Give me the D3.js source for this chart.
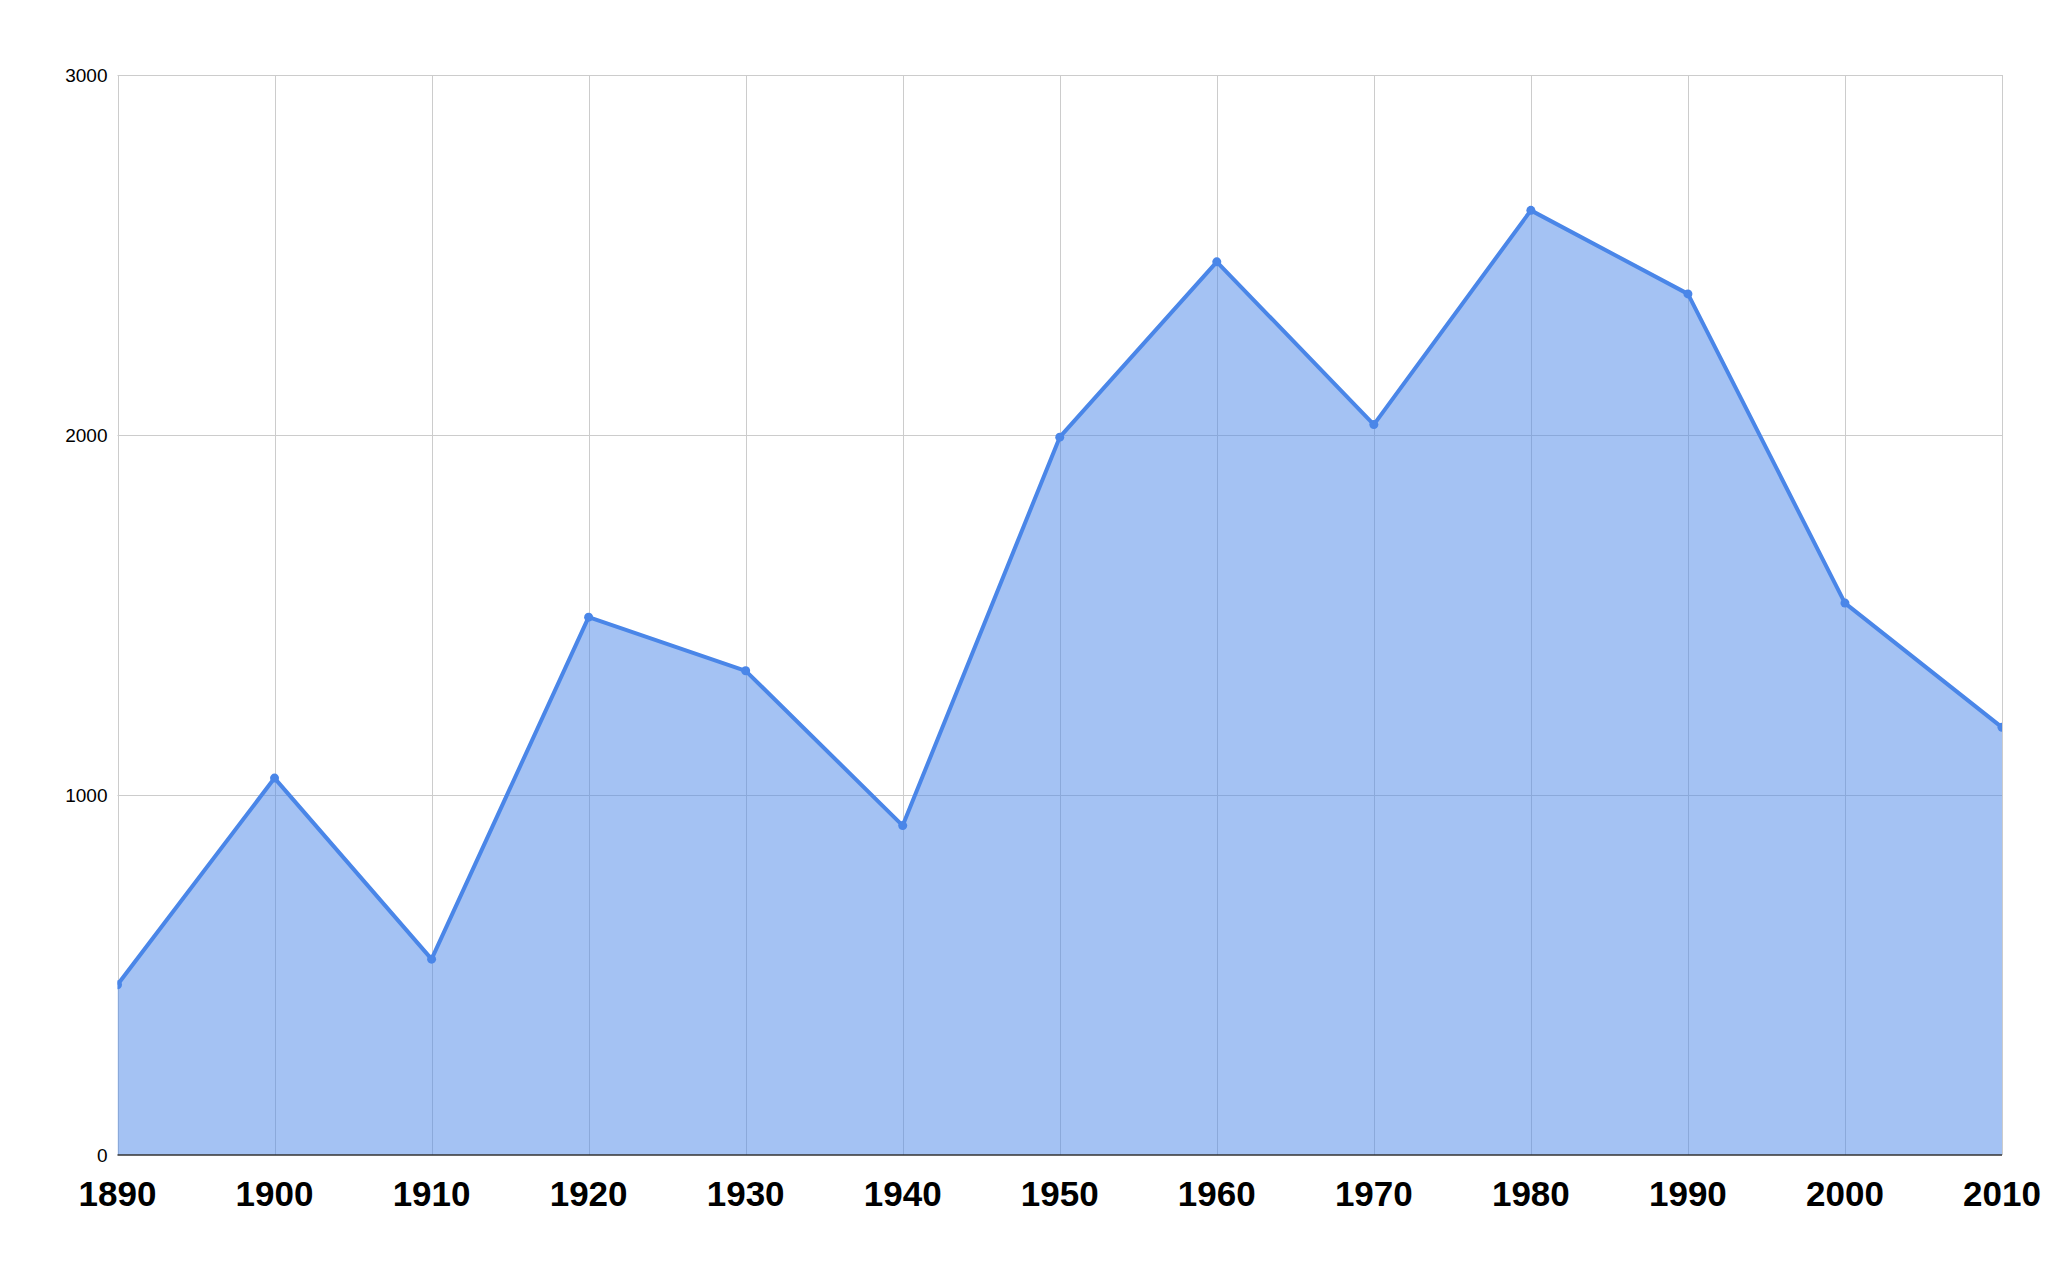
<!DOCTYPE html>
<html>
<head>
<meta charset="utf-8">
<script src="https://cdn.jsdelivr.net/npm/d3@7"></script>
<style>
  body { margin: 0; background: #fff; }
  svg { display: block; font-family: "Liberation Sans", Arial, sans-serif; }
</style>
</head>
<body>
<div id="chart"></div>
<script>
const years = [1890, 1900, 1910, 1920, 1930, 1940, 1950, 1960, 1970, 1980, 1990, 2000, 2010];
const values = [473, 1047, 544, 1494, 1345, 915, 1994, 2481, 2029, 2624, 2392, 1533, 1188];
const yTicks = [0, 1000, 2000, 3000];

const W = 2065, H = 1278;
const margin = { top: 75, right: 63, bottom: 123, left: 117.5 };

const svg = d3.select("#chart").append("svg")
    .attr("width", W)
    .attr("height", H);

const x = d3.scaleLinear().domain([1890, 2010]).range([margin.left, W - margin.right]);
const y = d3.scaleLinear().domain([0, 3000]).range([H - margin.bottom, margin.top]);

const data = years.map((yr, i) => ({ year: yr, value: values[i] }));

// clip marks to the plot area, like the original
svg.append("clipPath").attr("id", "plot")
    .append("rect")
    .attr("x", margin.left).attr("y", margin.top - 10)
    .attr("width", W - margin.right - margin.left)
    .attr("height", H - margin.bottom - margin.top + 10);

// gridlines
svg.append("g")
    .selectAll("line.h")
    .data(yTicks.slice(1))
    .join("line")
    .attr("x1", margin.left).attr("x2", W - margin.right)
    .attr("y1", d => Math.round(y(d)) + 0.5).attr("y2", d => Math.round(y(d)) + 0.5)
    .attr("stroke", "#cccccc").attr("stroke-width", 1);

svg.append("g")
    .selectAll("line.v")
    .data(years)
    .join("line")
    .attr("x1", d => Math.round(x(d)) + 0.5).attr("x2", d => Math.round(x(d)) + 0.5)
    .attr("y1", margin.top).attr("y2", H - margin.bottom)
    .attr("stroke", "#cccccc").attr("stroke-width", 1);

const marks = svg.append("g").attr("clip-path", "url(#plot)");

// area
const area = d3.area()
    .x(d => x(d.year))
    .y0(y(0))
    .y1(d => y(d.value));

marks.append("path")
    .datum(data)
    .attr("fill", "#4a86e8")
    .attr("fill-opacity", 0.5)
    .attr("d", area);

// line
const line = d3.line()
    .x(d => x(d.year))
    .y(d => y(d.value));

marks.append("path")
    .datum(data)
    .attr("fill", "none")
    .attr("stroke", "#4a86e8")
    .attr("stroke-width", 4)
    .attr("stroke-linejoin", "round")
    .attr("d", line);

marks.append("g")
    .selectAll("circle")
    .data(data)
    .join("circle")
    .attr("cx", d => x(d.year))
    .attr("cy", d => y(d.value))
    .attr("r", 4.5)
    .attr("fill", "#4a86e8");

// baseline axis
svg.append("line")
    .attr("x1", margin.left).attr("x2", W - margin.right)
    .attr("y1", y(0)).attr("y2", y(0))
    .attr("stroke", "#333333").attr("stroke-width", 1.5);

// y labels
svg.append("g")
    .selectAll("text")
    .data(yTicks)
    .join("text")
    .attr("x", margin.left - 10)
    .attr("y", d => y(d))
    .attr("dy", "0.35em")
    .attr("text-anchor", "end")
    .style("font-size", "19px")
    .attr("fill", "#000")
    .text(d => d);

// x labels
svg.append("g")
    .selectAll("text")
    .data(years)
    .join("text")
    .attr("x", d => x(d))
    .attr("y", 1206)
    .attr("text-anchor", "middle")
    .style("font-size", "35px")
    .style("font-weight", "bold")
    .attr("fill", "#000")
    .text(d => d);
</script>
</body>
</html>
